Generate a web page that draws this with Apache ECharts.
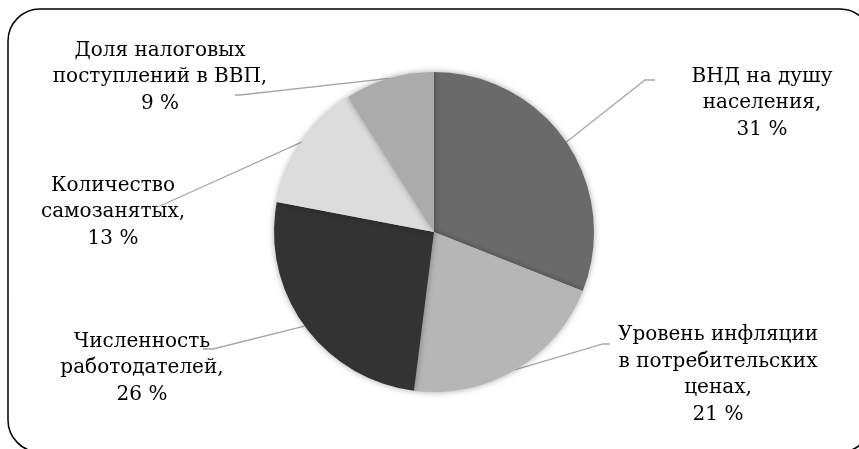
<!DOCTYPE html>
<html>
<head>
<meta charset="utf-8">
<script src="https://cdn.jsdelivr.net/npm/echarts@6/dist/echarts.min.js"></script>
<style>
  html, body { margin: 0; padding: 0; background: #fff; }
  #pie { width: 859px; height: 449px; }
</style>
</head>
<body>
<div id="pie"></div>
<script>
// данные
var names = [
  'ВНД на душу\nнаселения',
  'Уровень инфляции\nв потребительских\nценах',
  'Численность\nработодателей',
  'Количество\nсамозанятых',
  'Доля налоговых\nпоступлений в ВВП'
];
var shares = [31, 21, 26, 13, 9];
var colors = ['#6a6a6a', '#b6b6b6', '#333333', '#dcdcdc', '#ababab'];

// где стоят подписи (центр блока) и куда приходит выноска
var labelAt = [[762, 103], [718, 375], [142, 368], [113, 212], [160, 77]];
var lineBend = [[645, 80], [603, 344], [213, 349], [160, 206], [240, 95]];
var lineEnd = [[655, 80], [610, 344], [203, 349], [157, 207], [235, 95]];

var chart = echarts.init(document.getElementById('pie'));

var pieData = names.map(function (n, i) {
  return { name: n, value: shares[i], itemStyle: { color: colors[i] } };
});

chart.setOption({
  animation: false,
  graphic: [{
    type: 'rect',
    z: -1,
    shape: { x: 8, y: 9, width: 864, height: 443, r: 32 },
    style: { fill: 'none', stroke: '#000', lineWidth: 1.5 }
  }],
  series: [{
    type: 'pie',
    center: [434, 232],
    radius: 160,
    startAngle: 90,
    clockwise: true,
    data: pieData,
    itemStyle: {
      borderWidth: 0,
      shadowBlur: 6,
      shadowColor: 'rgba(0,0,0,0.35)'
    },
    label: {
      show: true,
      position: 'outside',
      formatter: '{b},\n{c} %',
      fontFamily: '"DejaVu Serif", serif',
      fontSize: 20,
      lineHeight: 26.5,
      color: '#000',
      align: 'center'
    },
    labelLine: {
      show: true,
      length: 20,
      length2: 10,
      lineStyle: { color: '#a6a6a6', width: 1.3 }
    },
    labelLayout: function (params) {
      var i = params.dataIndex;
      var p = params.labelLinePoints;
      return {
        x: labelAt[i][0],
        y: labelAt[i][1],
        align: 'center',
        verticalAlign: 'middle',
        labelLinePoints: [p[0], lineBend[i], lineEnd[i]]
      };
    },
    emphasis: { disabled: true }
  }]
});
</script>
</body>
</html>
